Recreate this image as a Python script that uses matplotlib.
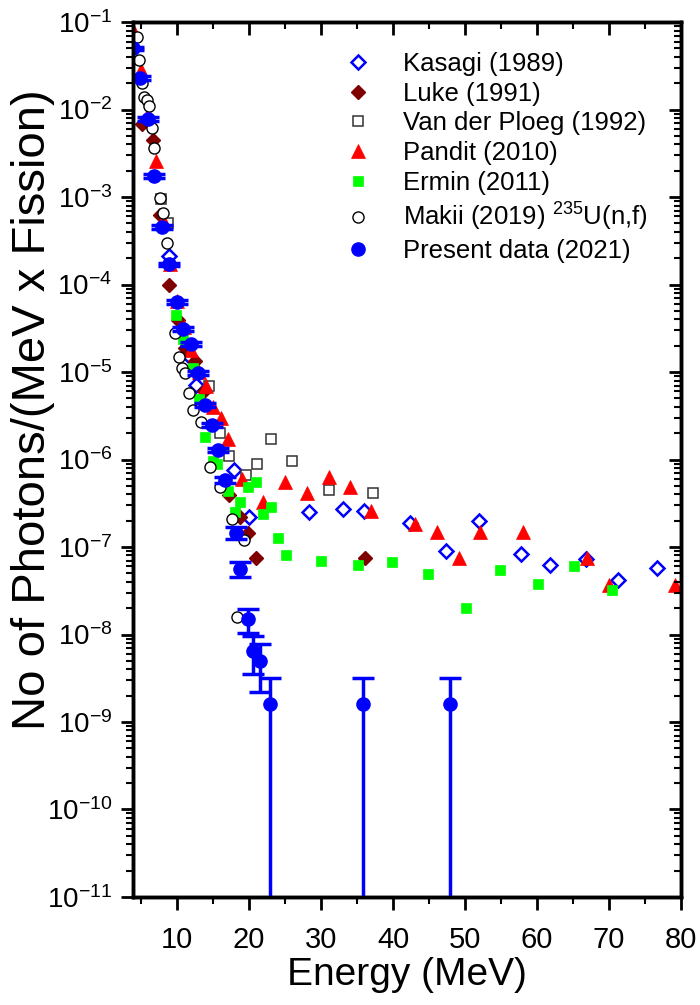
import matplotlib
matplotlib.use("Agg")
import matplotlib.pyplot as plt
from matplotlib.ticker import LogLocator, LogFormatterSciNotation, MultipleLocator, NullFormatter
import numpy as np

plt.rcParams['font.family'] = ['Liberation Sans', 'DejaVu Sans']
plt.rcParams['mathtext.fontset'] = 'custom'
plt.rcParams['mathtext.rm'] = 'Liberation Sans'
plt.rcParams['mathtext.it'] = 'Liberation Sans:italic'
plt.rcParams['mathtext.default'] = 'regular'

# Kasagi (1989)
kasagi_e = [8.9, 11.8, 12.7, 17.9, 20.0, 28.4, 33.0, 36.0, 42.4, 47.3, 51.9, 57.8, 61.8, 66.8, 71.2, 76.7]
kasagi_y = [2.1e-4, 1.5e-5, 7.2e-6, 7.6e-7, 2.2e-7, 2.5e-7, 2.7e-7, 2.6e-7, 1.9e-7, 9.1e-8, 2.0e-7,
            8.3e-8, 6.2e-8, 7.3e-8, 4.2e-8, 5.7e-8]

# Luke (1991)
luke_e = [5.2, 6.7, 7.6, 8.9, 10.2, 11.1, 12.5, 13.7, 17.2, 18.75, 19.9, 21.0, 36.1]
luke_y = [6.9e-3, 4.5e-3, 6.2e-4, 1.0e-4, 3.9e-5, 1.9e-5, 1.35e-5, 6.0e-6, 3.9e-7, 2.2e-7, 1.45e-7,
          7.4e-8, 7.4e-8]

# Van der Ploeg (1992)
vdp_e = [7.8, 8.8, 14.4, 16.0, 17.2, 19.6, 21.1, 23.0, 26.0, 31.1, 37.2]
vdp_y = [9.5e-4, 5.1e-4, 7.0e-6, 2.0e-6, 1.1e-6, 6.7e-7, 8.9e-7, 1.7e-6, 9.7e-7, 4.5e-7, 4.1e-7]

# Pandit (2010)
pandit_e = [4.0, 5.0, 6.0, 7.1, 8.0, 9.0, 10.0, 11.0, 12.0, 13.0, 14.0, 15.0, 16.1, 17.1, 19.0, 22.0,
            25.0, 28.0, 31.1, 34.0, 37.0, 43.1, 46.1, 49.1, 52.1, 58.1, 67.0, 70.0, 79.2]
pandit_y = [7.8e-2, 2.8e-2, 9.0e-3, 2.6e-3, 5.5e-4, 1.7e-4, 6.5e-5, 3.3e-5, 1.8e-5, 1.0e-5, 6.9e-6,
            4.0e-6, 3.0e-6, 1.7e-6, 6.0e-7, 3.3e-7, 5.6e-7, 4.1e-7, 6.3e-7, 4.9e-7, 2.6e-7, 1.85e-7,
            1.5e-7, 7.4e-8, 1.5e-7, 1.5e-7, 7.4e-8, 3.7e-8, 3.7e-8]

# Ermin (2011)
ermin_e = [9.9, 10.9, 12.3, 13.0, 13.9, 15.0, 15.6, 17.1, 18.1, 18.8, 19.8, 21.0, 22.0, 23.0, 24.0,
           25.1, 30.0, 35.2, 39.8, 44.8, 50.1, 54.8, 60.1, 65.1, 70.4]
ermin_y = [4.5e-5, 2.4e-5, 1.1e-5, 4.9e-6, 1.8e-6, 9.5e-7, 9.0e-7, 4.4e-7, 2.5e-7, 3.3e-7, 4.9e-7,
           5.6e-7, 2.4e-7, 2.9e-7, 1.26e-7, 8.0e-8, 6.9e-8, 6.2e-8, 6.8e-8, 4.9e-8, 2.0e-8, 5.5e-8,
           3.8e-8, 6.1e-8, 3.2e-8]

# Makii (2019) 235U(n,f)
makii_e = [4.4, 4.8, 5.2, 5.4, 5.8, 6.15, 6.5, 6.85, 7.6, 8.1, 8.6, 9.7, 10.3, 10.65, 11.1, 11.7,
           12.3, 13.3, 14.6, 16.0, 17.6, 18.4, 19.3]
makii_y = [6.8e-2, 3.7e-2, 2.0e-2, 1.4e-2, 1.3e-2, 1.1e-2, 6.1e-3, 3.6e-3, 9.8e-4, 6.5e-4, 3.0e-4,
           2.8e-5, 1.5e-5, 1.1e-5, 9.8e-6, 5.7e-6, 3.7e-6, 2.7e-6, 8.2e-7, 4.9e-7, 2.1e-7, 1.6e-8, 1.2e-7]

# Present data (2021)
present_e = [3.9, 4.9, 6.0, 6.85, 7.9, 8.9, 9.95, 10.9, 11.9, 12.96, 13.9, 14.8, 15.7, 16.7, 18.2,
             18.7, 19.9, 20.6, 21.5, 22.9, 35.8, 47.9]
present_y = [5.0e-2, 2.3e-2, 7.9e-3, 1.74e-3, 4.6e-4, 1.7e-4, 6.3e-5, 3.1e-5, 2.1e-5, 9.7e-6, 4.2e-6,
             2.5e-6, 1.3e-6, 5.8e-7, 1.46e-7, 5.6e-8, 1.5e-8, 6.5e-9, 5.0e-9, 1.6e-9, 1.6e-9, 1.6e-9]
present_err = [2.5e-3, 1.2e-3, 4.0e-4, 9e-5, 2.3e-5, 8.5e-6, 3.2e-6, 1.6e-6, 1.1e-6, 5e-7, 2.1e-7,
               1.3e-7, 7e-8, 4.5e-8, 2.2e-8, 1.1e-8, 4.5e-9, 3.0e-9, 2.8e-9, 1.6e-9, 1.6e-9, 1.6e-9]

fig = plt.figure(figsize=(7, 10.05), dpi=100)
ax = fig.add_axes([0.19, 0.1075, 0.783, 0.8705])

ax.plot(kasagi_e, kasagi_y, 'D', ms=7, mfc='none', mec='#0000ff', mew=1.8, ls='none', label='Kasagi (1989)')
ax.plot(luke_e, luke_y, 'D', ms=7, mfc='#800000', mec='#800000', ls='none', label='Luke (1991)')
ax.plot(vdp_e, vdp_y, 's', ms=7.5, mfc='white', mec='#333333', mew=1.1, ls='none', label='Van der Ploeg (1992)')
ax.plot(pandit_e, pandit_y, '^', ms=9.5, mfc='#ff0000', mec='#ff0000', mew=0.5, ls='none', label='Pandit (2010)')
ax.plot(ermin_e, ermin_y, 's', ms=7.5, mfc='#00ff00', mec='#00ff00', mew=0.5, ls='none', label='Ermin (2011)')
ax.plot(makii_e, makii_y, 'o', ms=8, mfc='white', mec='black', mew=1.0, ls='none',
        label='Makii (2019) $^{235}$U(n,f)')
ax.errorbar(present_e, present_y, yerr=present_err, fmt='none', ecolor='#0000ff',
            elinewidth=2.5, capsize=8, capthick=2.5, zorder=5)
ax.plot(present_e, present_y, 'o', ms=9.5, mfc='#0000ff', mec='#0000ff', ls='none', zorder=6,
        label='Present data (2021)')

ax.set_yscale('log')
ax.set_xlim(3.9, 80)
ax.set_ylim(1e-11, 1e-1)

ax.xaxis.set_major_locator(MultipleLocator(10))
ax.xaxis.set_minor_locator(MultipleLocator(5))
ax.yaxis.set_major_locator(LogLocator(base=10, numticks=20))
ax.yaxis.set_minor_locator(LogLocator(base=10, subs=np.arange(2, 10), numticks=20))
ax.yaxis.set_major_formatter(LogFormatterSciNotation())
ax.yaxis.set_minor_formatter(NullFormatter())

for sp in ax.spines.values():
    sp.set_linewidth(2.4)
ax.tick_params(which='major', direction='out', length=9, width=2, top=False, right=False)
ax.tick_params(which='minor', direction='out', length=5, width=1.5, top=False, right=False)
ax.tick_params(axis='x', which='major', pad=12, labelsize=21)
ax.tick_params(axis='y', which='major', pad=6, labelsize=20)

# inward ticks on the top and right spines
ax_top = ax.twiny()
ax_top.set_xlim(ax.get_xlim())
ax_top.xaxis.set_major_locator(MultipleLocator(10))
ax_top.xaxis.set_minor_locator(MultipleLocator(5))
ax_top.tick_params(which='major', direction='in', length=9, width=2, labeltop=False)
ax_top.tick_params(which='minor', direction='in', length=5, width=1.5)
ax_right = ax.twinx()
ax_right.set_yscale('log')
ax_right.set_ylim(ax.get_ylim())
ax_right.yaxis.set_major_locator(LogLocator(base=10, numticks=20))
ax_right.yaxis.set_minor_locator(LogLocator(base=10, subs=np.arange(2, 10), numticks=20))
ax_right.yaxis.set_minor_formatter(NullFormatter())
ax_right.tick_params(which='major', direction='in', length=9, width=2, labelright=False)
ax_right.tick_params(which='minor', direction='in', length=5, width=1.5)
for a in (ax_top, ax_right):
    for sp in a.spines.values():
        sp.set_linewidth(2.4)

ax.set_xlabel('Energy (MeV)', fontsize=28, labelpad=2)
ax.set_ylabel('No of Photons/(MeV x Fission)', fontsize=34)
ax.yaxis.set_label_coords(-0.142, 0.557)

ax.legend(loc='upper left', bbox_to_anchor=(0.369, 0.978), frameon=False, fontsize=18.5,
          handlelength=1.0, handletextpad=1.25, labelspacing=0.23, borderaxespad=0, numpoints=1)

fig.savefig('out.png', dpi=100)
